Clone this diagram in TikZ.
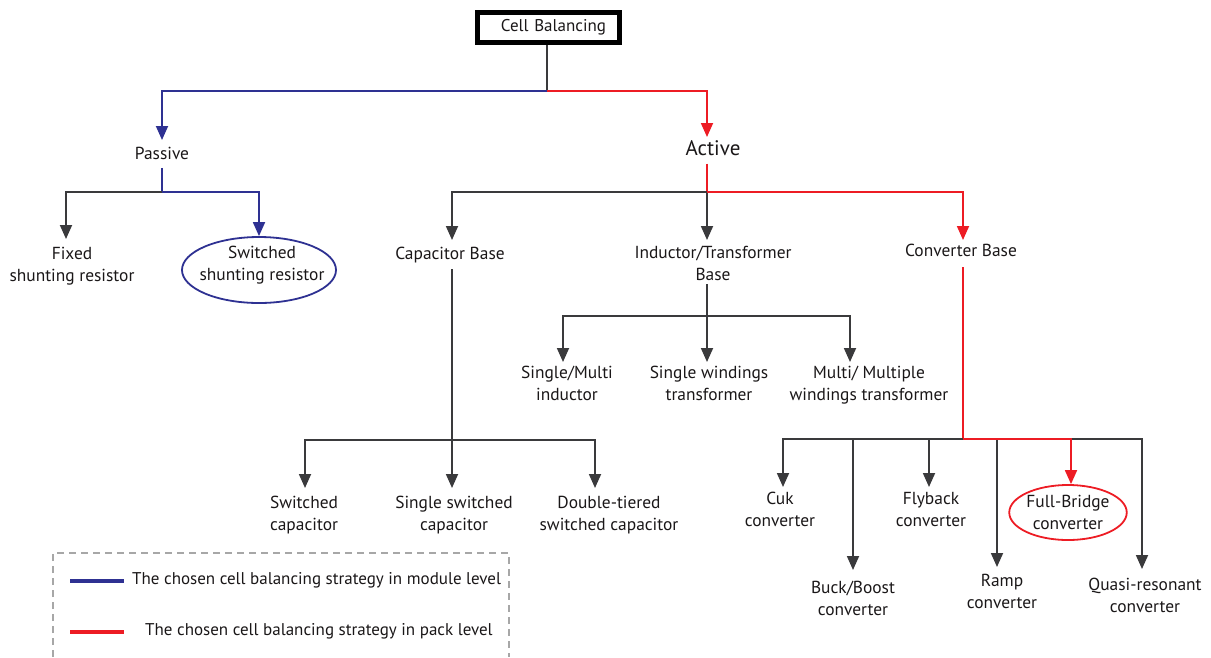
\documentclass[tikz,border=0pt]{standalone}
\usepackage{fontspec}
\setmainfont{PT Sans}
\usetikzlibrary{arrows.meta,shapes.geometric}
\definecolor{modblue}{HTML}{2E3192}
\definecolor{packred}{HTML}{ED1C24}
\definecolor{wire}{HTML}{3A3A3C}
\definecolor{ink}{HTML}{1A1718}
\definecolor{frame}{HTML}{A7A7A7}
\begin{document}
\begin{tikzpicture}[x=1pt,y=-1pt,
  every node/.style={text=ink},
  lbl/.style={align=center, inner sep=0pt, anchor=north, font=\fontsize{17.4}{22}\selectfont},
  wireline/.style={draw=wire, line width=1.8pt},
  modpath/.style={draw=modblue, line width=1.8pt},
  packpath/.style={draw=packred, line width=1.8pt},
  tip/.style={-{Triangle[length=14pt,width=12pt]}},
  oval/.style={ellipse, line width=1.8pt, inner sep=0pt},
  legendtext/.style={anchor=west, inner sep=0pt, font=\fontsize{17}{20}\selectfont},
]
\useasboundingbox (0,0) rectangle (1211,657);

% ---- root ----
\node[draw=black, line width=5pt, minimum width=142pt, minimum height=30pt,
      text width=115pt, inner xsep=13.5pt, inner ysep=0pt, align=right,
      font=\fontsize{17}{20}\selectfont] (root) at (548.5,27) {Cell Balancing};
\coordinate (j0) at (547,91);
\draw[wireline] (root.south -| j0) -- (j0);

% ---- first level ----
\node[lbl] (passive) at (162,147) {Passive};
\node[lbl, font=\fontsize{21}{24}\selectfont] (active) at (713,140) {Active};
\draw[modpath, tip, shorten >=7pt] (j0) -| (passive.north);
\draw[packpath, tip, shorten >=3pt] (j0) -| ([xshift=-6pt]active.north);

% ---- passive branch ----
\coordinate (jp) at (162,192);
\draw[modpath] ([yshift=-8pt]passive.south) -- (jp);
\node[lbl] (fixed) at (72,247) {Fixed\\shunting resistor};
\node[oval, draw=modblue, minimum width=154pt, minimum height=66pt] (swres) at (259,270) {};
\node[lbl] (swrestext) at (262,246) {Switched\\shunting resistor};
\draw[wireline, tip, shorten >=8pt] (jp) -| ([xshift=-6pt]fixed.north);
\draw[modpath, tip] (jp) -| (swres.north);

% ---- active branch ----
\coordinate (ja) at (707,192);
\draw[packpath] ([xshift=-6pt,yshift=-8pt]active.south) -- (ja);
\node[lbl] (capbase) at (450,247) {Capacitor Base};
\node[lbl] (indbase) at (713,246) {Inductor/Transformer\\Base};
\node[lbl] (convbase) at (961,244) {Converter Base};
\draw[wireline, tip, shorten >=7pt] (ja) -| ([xshift=2pt]capbase.north);
\draw[wireline, tip, shorten >=6pt] (ja) -- ([xshift=-6pt]indbase.north);
\draw[packpath, tip, shorten >=4pt] (ja) -| ([xshift=2pt]convbase.north);

% ---- capacitor based ----
\coordinate (jc) at (452,440);
\draw[wireline] ([xshift=2pt,yshift=-6pt]capbase.south) -- (jc);
\node[lbl] (swcap) at (304,496) {Switched\\capacitor};
\node[lbl] (sscap) at (454,496) {Single switched\\capacitor};
\node[lbl] (dtcap) at (609,496) {Double-tiered\\switched capacitor};
\draw[wireline, tip, shorten >=8pt] (jc) -| ([xshift=1pt]swcap.north);
\draw[wireline, tip, shorten >=8pt] (jc) -- ([xshift=-2pt]sscap.north);
\draw[wireline, tip, shorten >=8pt] (jc) -| ([xshift=-14pt]dtcap.north);

% ---- inductor / transformer based ----
\coordinate (ji) at (707,316);
\draw[wireline] ([xshift=-6pt,yshift=-3pt]indbase.south) -- (ji);
\node[lbl] (sminductor) at (567,366) {Single/Multi\\inductor};
\node[lbl] (swtrans) at (709,366) {Single windings\\transformer};
\node[lbl] (mwtrans) at (869,366) {Multi/ Multiple\\windings transformer};
\draw[wireline, tip, shorten >=4pt] (ji) -| ([xshift=-4pt]sminductor.north);
\draw[wireline, tip, shorten >=4pt] (ji) -- ([xshift=-2pt]swtrans.north);
\draw[wireline, tip, shorten >=4pt] (ji) -| ([xshift=-19pt]mwtrans.north);

% ---- converter based ----
\coordinate (jv) at (963,439);
\draw[packpath] ([xshift=2pt,yshift=-10pt]convbase.south) -- (jv);
\node[lbl] (cuk) at (780,492) {Cuk\\converter};
\node[lbl] (buck) at (853,581) {Buck/Boost\\converter};
\node[lbl] (fly) at (931,492) {Flyback\\converter};
\node[lbl] (ramp) at (1002,574) {Ramp\\converter};
\node[lbl] (quasi) at (1145,578) {Quasi-resonant\\converter};
\node[oval, draw=packred, minimum width=117pt, minimum height=55pt, align=center,
      font=\fontsize{17.4}{22}\selectfont] (fullbr) at (1068,512.5) {Full-Bridge\\converter};
\draw[wireline, tip, shorten >=5pt] (jv) -| ([xshift=3pt]cuk.north);
\draw[wireline, tip, shorten >=11pt] (jv) -| (buck.north);
\draw[wireline, tip, shorten >=5pt] (jv) -| ([xshift=-2pt]fly.north);
\draw[wireline, tip, shorten >=7pt] (jv) -| ([xshift=-5pt]ramp.north);
\draw[wireline, tip, shorten >=9pt] (jv) -| ([xshift=-3pt]quasi.north);
\draw[packpath, tip] (jv) -| ([xshift=3pt]fullbr.north);

% ---- legend ----
\draw[draw=frame, line width=1.2pt, dash pattern=on 7pt off 5pt]
  (53,657) -- (53,553) -- (509,553) -- (509,657);
\coordinate (k1a) at (70,581);
\coordinate (k1b) at (124,581);
\coordinate (k2a) at (70,632);
\coordinate (k2b) at (124,632);
\draw[draw=modblue, line width=3.5pt] (k1a) -- (k1b);
\draw[draw=packred, line width=3.5pt] (k2a) -- (k2b);
\node[legendtext] (leg1) at (132,580) {The chosen cell balancing strategy in module level};
\node[legendtext] (leg2) at (145,631) {The chosen cell balancing strategy in pack level};
\end{tikzpicture}
\end{document}
